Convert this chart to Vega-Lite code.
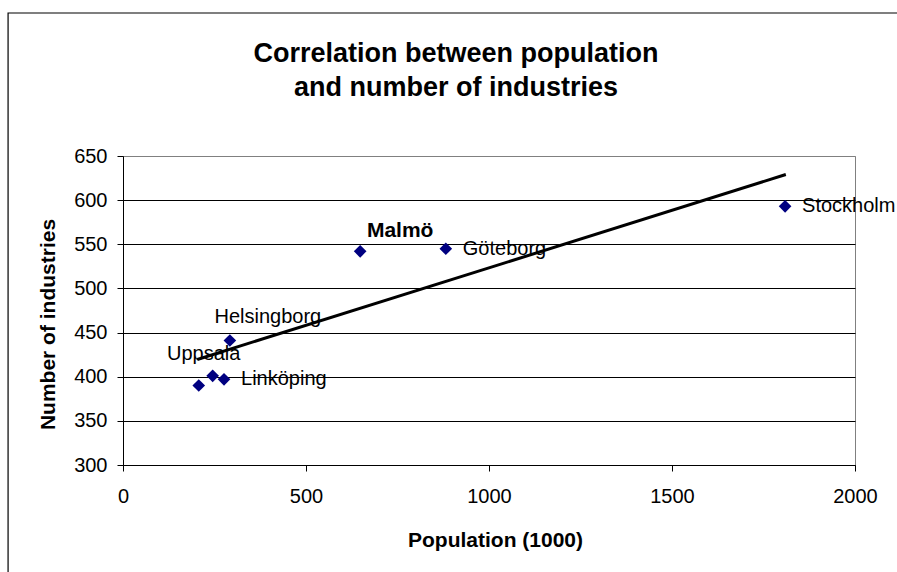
{
  "$schema": "https://vega.github.io/schema/vega-lite/v6.json",
  "width": 732,
  "height": 309,
  "autosize": {"type": "none"},
  "padding": {"left": 123, "top": 156, "right": 42, "bottom": 107},
  "background": "white",
  "title": {
    "text": ["Correlation between population", "and number of industries"],
    "font": "Liberation Sans",
    "fontSize": 27,
    "fontWeight": "bold",
    "color": "black",
    "anchor": "middle",
    "frame": "group",
    "dx": -33,
    "offset": -90,
    "lineHeight": 34
  },
  "config": {
    "view": {"stroke": "#808080", "strokeWidth": 1},
    "font": "Liberation Sans"
  },
  "datasets": {
    "cities": [
      {"city": "Stockholm", "population": 1809, "industries": 593},
      {"city": "Göteborg", "population": 882, "industries": 545},
      {"city": "Malmö", "population": 648, "industries": 542},
      {"city": "Helsingborg", "population": 292, "industries": 441},
      {"city": "Uppsala", "population": 245, "industries": 401},
      {"city": "Linköping", "population": 276, "industries": 397},
      {"city": "Västerås", "population": 207, "industries": 390}
    ],
    "trend": [
      {"population": 203, "industries": 419.5},
      {"population": 1811, "industries": 629}
    ]
  },
  "layer": [
    {
      "data": {"name": "cities"},
      "mark": {"type": "point", "shape": "diamond", "filled": true, "size": 160, "color": "#000080", "opacity": 1},
      "encoding": {
        "x": {
          "field": "population", "type": "quantitative",
          "scale": {"domain": [0, 2000], "nice": false, "zero": false},
          "axis": {
            "values": [0, 500, 1000, 1500, 2000],
            "format": "d",
            "grid": false,
            "labelFont": "Liberation Sans", "labelFontSize": 20, "labelColor": "black",
            "labelPadding": 15, "labelFlush": false, "labelOverlap": false,
            "tickColor": "black", "tickSize": 6, "domainColor": "black",
            "title": "Population (1000)",
            "titleFont": "Liberation Sans", "titleFontSize": 21, "titleFontWeight": "bold", "titleColor": "black",
            "titleX": 372, "titleY": 81, "titleBaseline": "alphabetic", "titleAlign": "center"
          }
        },
        "y": {
          "field": "industries", "type": "quantitative",
          "scale": {"domain": [300, 650], "nice": false, "zero": false},
          "axis": {
            "values": [300, 350, 400, 450, 500, 550, 600, 650],
            "format": "d",
            "grid": true,
            "gridColor": {"condition": {"test": "datum.value == 650", "value": "#808080"}, "value": "black"},
            "gridWidth": 1,
            "labelFont": "Liberation Sans", "labelFontSize": 20, "labelColor": "black",
            "labelPadding": 10, "labelFlush": false, "labelOverlap": false,
            "tickColor": "black", "tickSize": 6, "domainColor": "black",
            "title": "Number of industries",
            "titleFont": "Liberation Sans", "titleFontSize": 21, "titleFontWeight": "bold", "titleColor": "black",
            "titleX": -69, "titleY": 168, "titleBaseline": "alphabetic", "titleAlign": "center", "titleAngle": -90
          }
        }
      }
    },
    {
      "data": {"name": "trend"},
      "mark": {"type": "line", "color": "black", "strokeWidth": 3},
      "encoding": {
        "x": {"field": "population", "type": "quantitative", "scale": {"domain": [0, 2000], "nice": false, "zero": false}},
        "y": {"field": "industries", "type": "quantitative", "scale": {"domain": [300, 650], "nice": false, "zero": false}}
      }
    },
    {
      "data": {"name": "cities"},
      "transform": [{"filter": "datum.city == 'Stockholm' || datum.city == 'Göteborg' || datum.city == 'Linköping'"}],
      "mark": {"type": "text", "align": "left", "baseline": "middle", "dx": 17, "fontSize": 20, "font": "Liberation Sans", "color": "black"},
      "encoding": {
        "x": {"field": "population", "type": "quantitative"},
        "y": {"field": "industries", "type": "quantitative"},
        "text": {"field": "city"}
      }
    },
    {
      "data": {"name": "cities"},
      "transform": [{"filter": "datum.city == 'Malmö'"}],
      "mark": {"type": "text", "align": "center", "baseline": "alphabetic", "dx": 40, "dy": -14, "fontSize": 21, "fontWeight": "bold", "font": "Liberation Sans", "color": "black"},
      "encoding": {
        "x": {"field": "population", "type": "quantitative"},
        "y": {"field": "industries", "type": "quantitative"},
        "text": {"field": "city"}
      }
    },
    {
      "data": {"name": "cities"},
      "transform": [{"filter": "datum.city == 'Helsingborg'"}],
      "mark": {"type": "text", "align": "center", "baseline": "alphabetic", "dx": 38, "dy": -18, "fontSize": 20, "font": "Liberation Sans", "color": "black"},
      "encoding": {
        "x": {"field": "population", "type": "quantitative"},
        "y": {"field": "industries", "type": "quantitative"},
        "text": {"field": "city"}
      }
    },
    {
      "data": {"name": "cities"},
      "transform": [{"filter": "datum.city == 'Uppsala'"}],
      "mark": {"type": "text", "align": "center", "baseline": "alphabetic", "dx": -9, "dy": -16, "fontSize": 20, "font": "Liberation Sans", "color": "black"},
      "encoding": {
        "x": {"field": "population", "type": "quantitative"},
        "y": {"field": "industries", "type": "quantitative"},
        "text": {"field": "city"}
      }
    },
    {
      "data": {"values": [{}]},
      "mark": {"type": "rect", "fill": null, "filled": false, "stroke": "black", "strokeWidth": 1.2, "clip": false},
      "encoding": {
        "x": {"datum": -314, "type": "quantitative"},
        "x2": {"datum": 2140},
        "y": {"datum": 812, "type": "quantitative"},
        "y2": {"datum": 150}
      }
    }
  ]
}
